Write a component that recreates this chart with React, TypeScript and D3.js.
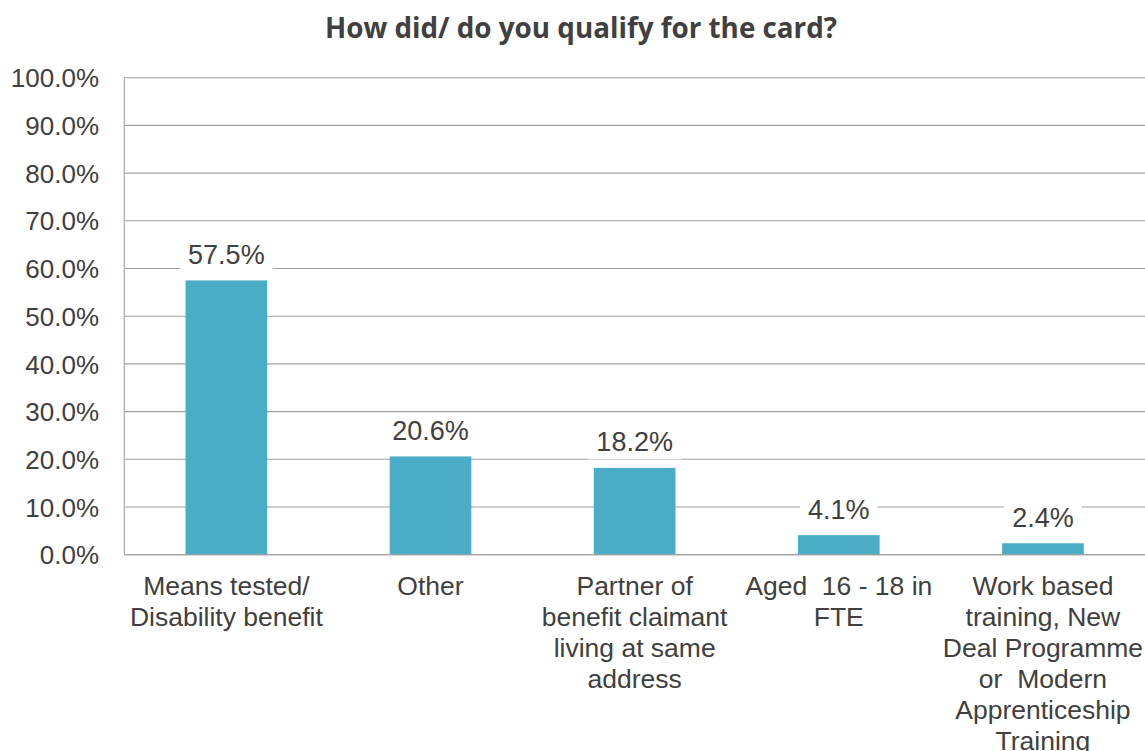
import React from "react";
import * as d3 from "d3";

const title = "How did/ do you qualify for the card?";
const categoryLines: string[][] = [
  ["Means tested/", "Disability benefit"],
  ["Other"],
  ["Partner of", "benefit claimant", "living at same", "address"],
  ["Aged  16 - 18 in", "FTE"],
  ["Work based", "training, New", "Deal Programme", "or  Modern", "Apprenticeship", "Training"],
];
const categoryKeys = ["Means tested", "Other", "Partner", "Aged", "Work based"];
const values = [57.5, 20.6, 18.2, 4.1, 2.4];
const yTicks = [0, 10, 20, 30, 40, 50, 60, 70, 80, 90, 100];

const W = 1145;
const H = 751;
const left = 124.3;
const right = 1145;
const top = 77.7;
const bottom = 554.7;

const textColor = "#404040";
const gridColor = "#a0a0a0";
const barColor = "#4BACC6";
const font = "'Liberation Sans', Arial, sans-serif";

export default function App() {
  const x = d3.scaleBand<string>().domain(categoryKeys).range([left, right]).paddingInner(0.6).paddingOuter(0.3);
  const y = d3.scaleLinear().domain([0, 100]).range([bottom, top]);

  const labelFont = 27;
  return (
    <svg width={W} height={H} style={{ position: "absolute", left: 0, top: 0, background: "#fff" }} fontFamily={font}>
      <text x={581} y={38} textAnchor="middle" fontFamily="'Open Sans', sans-serif" fontWeight="bold" fontSize={27.8} fill={textColor}>
        {title}
      </text>
      {yTicks.map((t) => (
        <g key={t}>
          <line x1={left} x2={right} y1={y(t)} y2={y(t)} stroke={gridColor} strokeWidth={1.1} />
          <text x={99} y={y(t) + 9.6} textAnchor="end" fontSize={26} fill={textColor}>
            {t.toFixed(1)}%
          </text>
        </g>
      ))}
      <line x1={left} x2={left} y1={top} y2={bottom} stroke={gridColor} strokeWidth={1.1} />
      {values.map((v, i) => {
        const k = categoryKeys[i];
        const bx = x(k)!;
        const bw = x.bandwidth();
        const cx = bx + bw / 2;
        const label = v.toFixed(1) + "%";
        const approxW = (label.replace(/[^0-9]/g, "").length * 0.556 + 0.278 + 0.889) * labelFont;
        const baseline = y(v) - 16.5;
        return (
          <g key={k}>
            <rect x={bx} y={y(v)} width={bw} height={bottom - y(v)} fill={barColor} />
            <rect x={cx - approxW / 2 - 8} y={baseline - 22} width={approxW + 16} height={30} fill="#fff" />
            <text x={cx} y={baseline} textAnchor="middle" fontSize={labelFont} fill={textColor}>
              {label}
            </text>
            <text textAnchor="middle" fontSize={26.5} fill={textColor} style={{ whiteSpace: "pre" }}>
              {categoryLines[i].map((ln, j) => (
                <tspan key={j} x={cx} y={595 + j * 31}>
                  {ln}
                </tspan>
              ))}
            </text>
          </g>
        );
      })}
      <line x1={left} x2={right} y1={bottom} y2={bottom} stroke={gridColor} strokeWidth={1.1} />
    </svg>
  );
}
